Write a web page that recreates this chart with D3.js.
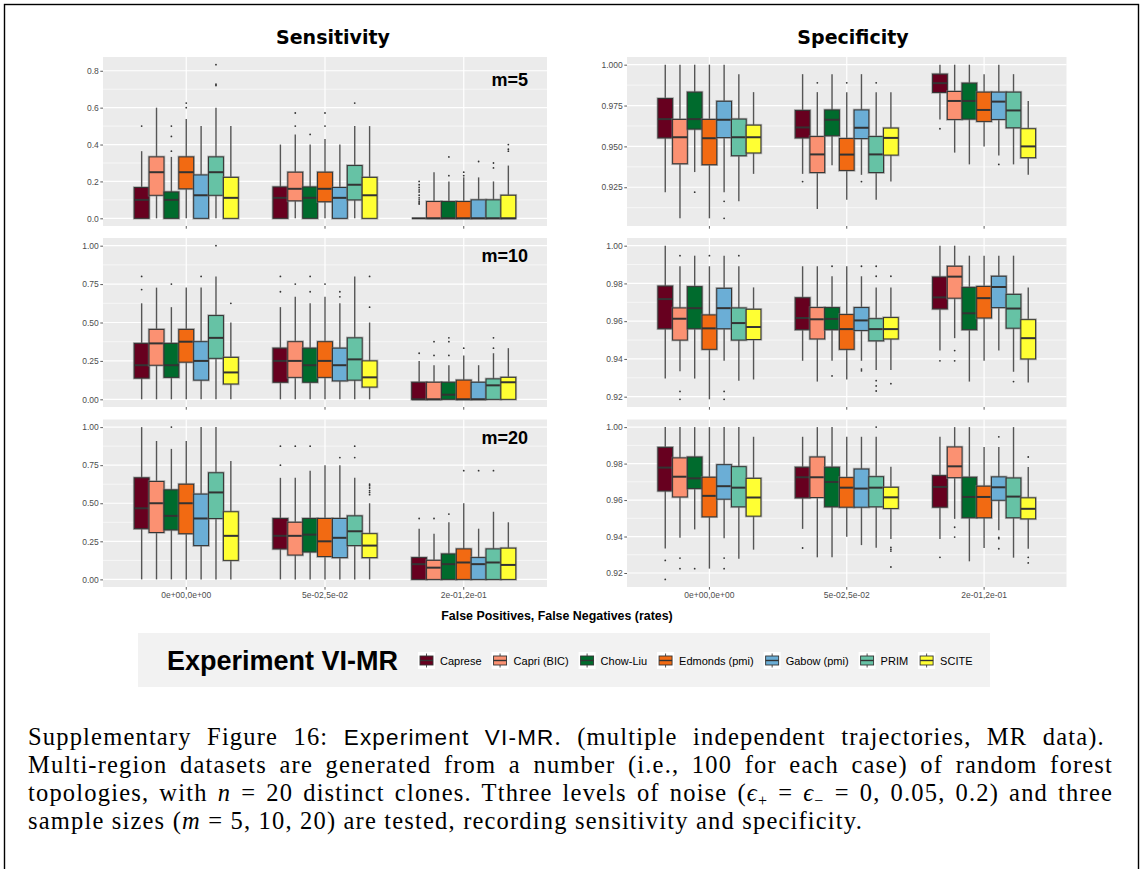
<!DOCTYPE html>
<html>
<head>
<meta charset="utf-8">
<script src="https://cdn.jsdelivr.net/npm/d3@7"></script>
<style>
  body { margin: 0; background: #fff; }
  svg { display: block; }
</style>
</head>
<body>
<svg id="fig" width="1143" height="869"></svg>
<script>
// ---- categories ----
const methods = ["Caprese", "Capri (BIC)", "Chow-Liu", "Edmonds (pmi)", "Gabow (pmi)", "PRIM", "SCITE"];
const methodColors = ["#67001f", "#fb9172", "#006b2d", "#f26a12", "#6baed6", "#66c2a5", "#ffff33"];
const noiseLevels = ["0e+00,0e+00", "5e-02,5e-02", "2e-01,2e-01"];
const sampleSizes = ["m=5", "m=10", "m=20"];

// ---- box statistics: [lower whisker, q1, median, q3, upper whisker, outliers] per noise level, per method ----
const sensM5 = [
  [[0,0,0.1,0.167,0.364,[0.5]], [0,0.125,0.25,0.333,0.6,[]], [0,0,0.1,0.143,0.333,[0.364,0.444,0.5]], [0,0.16,0.25,0.333,0.538,[0.6,0.625]], [0,0,0.125,0.235,0.5,[]], [0,0.125,0.25,0.333,0.6,[0.72,0.727,0.833]], [0,0,0.111,0.222,0.5,[]]],
  [[0,0,0.111,0.17,0.4,[]], [0,0.095,0.16,0.25,0.455,[0.5,0.571]], [0,0,0.111,0.17,0.4,[0.455]], [0,0.09,0.16,0.25,0.43,[0.5,0.571]], [0,0,0.111,0.167,0.4,[]], [0,0.1,0.182,0.286,0.5,[0.625]], [0,0,0.125,0.222,0.5,[]]],
  [[0,0,0,0,0,[0.077,0.083,0.091,0.1,0.111,0.125,0.143,0.154,0.167,0.182,0.2]], [0,0,0,0.091,0.25,[]], [0,0,0,0.091,0.2,[0.231,0.333]], [0,0,0,0.091,0.222,[0.231,0.25]], [0,0,0,0.1,0.222,[0.308]], [0,0,0,0.1,0.2,[0.273,0.3]], [0,0,0,0.125,0.286,[0.364,0.375,0.4]]]
];
const sensM10 = [
  [[0,0.138,0.222,0.364,0.625,[0.714,0.8]], [0,0.222,0.364,0.455,0.727,[]], [0,0.143,0.222,0.364,0.6,[0.75]], [0,0.242,0.375,0.455,0.727,[]], [0,0.125,0.25,0.375,0.727,[0.8]], [0,0.267,0.4,0.545,0.8,[1.0]], [0,0.1,0.175,0.273,0.5,[0.625]]],
  [[0,0.111,0.25,0.333,0.6,[0.7,0.8]], [0,0.143,0.25,0.375,0.667,[0.75]], [0,0.111,0.222,0.333,0.625,[0.7,0.8]], [0,0.143,0.25,0.375,0.667,[0.75]], [0,0.12,0.222,0.333,0.625,[0.667,0.7]], [0,0.125,0.26,0.4,0.8,[]], [0,0.08,0.143,0.25,0.5,[0.6,0.8]]],
  [[0,0,0,0.111,0.25,[0.3]], [0,0,0,0.111,0.222,[0.286,0.375]], [0,0,0.03,0.111,0.222,[0.286,0.375,0.4]], [0,0,0,0.125,0.286,[0.333]], [0,0,0,0.111,0.222,[]], [0,0,0.091,0.133,0.3,[0.333,0.4]], [0,0,0.111,0.143,0.333,[]]]
];
const sensM20 = [
  [[0,0.333,0.467,0.667,1.0,[]], [0,0.308,0.5,0.643,0.909,[]], [0,0.325,0.417,0.588,0.857,[1.0]], [0,0.3,0.5,0.625,0.909,[]], [0,0.222,0.4,0.56,1.0,[]], [0,0.4,0.571,0.7,1.0,[]], [0,0.125,0.286,0.444,0.778,[]]],
  [[0,0.2,0.286,0.4,0.667,[0.75,0.875]], [0,0.16,0.286,0.375,0.667,[0.875]], [0,0.18,0.294,0.4,0.714,[0.875]], [0,0.15,0.25,0.4,0.75,[]], [0,0.143,0.273,0.4,0.75,[0.8]], [0,0.222,0.316,0.417,0.667,[0.8,0.875]], [0,0.143,0.222,0.3,0.5,[0.556,0.571,0.583,0.6,0.615,0.625]]],
  [[0,0,0.1,0.143,0.333,[0.4]], [0,0,0.077,0.125,0.3,[0.4]], [0,0,0.1,0.167,0.375,[0.429]], [0,0,0.111,0.2,0.5,[0.714]], [0,0,0.1,0.143,0.333,[0.714]], [0,0,0.111,0.2,0.444,[0.714]], [0,0,0.095,0.205,0.375,[]]]
];
const specM5 = [
  [[0.922,0.9552,0.9667,0.9793,1.0,[]], [0.906,0.9394,0.9556,0.9665,1.0,[]], [0.9343,0.9606,0.9667,0.9832,1.0,[0.922]], [0.906,0.9388,0.955,0.9665,1.0,[]], [0.922,0.9554,0.9663,0.9776,1.0,[0.9164,0.906]], [0.9164,0.9443,0.9556,0.9667,0.9942,[]], [0.9332,0.946,0.9556,0.963,0.9832,[]]],
  [[0.9332,0.9552,0.9616,0.972,0.9942,[0.9285]], [0.9117,0.934,0.9451,0.956,0.9832,[0.9889]], [0.9384,0.9565,0.9663,0.9723,0.9942,[]], [0.9174,0.9353,0.945,0.9548,0.9832,[0.9889]], [0.9326,0.9548,0.9614,0.9723,0.9942,[0.9285]], [0.9174,0.934,0.9451,0.956,0.9832,[0.9889]], [0.9285,0.9447,0.9552,0.9612,0.9832,[]]],
  [[0.9665,0.983,0.9887,0.9942,1.0,[0.9608]], [0.9462,0.9665,0.9778,0.9836,1.0,[]], [0.939,0.9667,0.9778,0.9887,1.0,[]], [0.95,0.9653,0.9723,0.9832,0.9942,[]], [0.9445,0.9665,0.9774,0.9832,1.0,[0.939]], [0.939,0.9614,0.972,0.9832,0.9942,[]], [0.9326,0.9431,0.95,0.9608,0.9778,[]]]
];
const specM10 = [
  [[0.9296,0.956,0.9717,0.9786,1.0,[]], [0.9335,0.95,0.9613,0.967,0.9891,[0.9947,0.9228,0.9186]], [0.9296,0.956,0.9669,0.9783,0.9947,[]], [0.9186,0.9451,0.9562,0.9633,0.9891,[0.9947]], [0.939,0.956,0.9669,0.9774,0.9947,[0.9228,0.9186]], [0.9285,0.95,0.959,0.967,0.9891,[0.9947]], [0.9291,0.9503,0.9569,0.9663,0.9779,[]]],
  [[0.939,0.9555,0.9617,0.9724,0.9891,[]], [0.928,0.9506,0.961,0.9672,0.9891,[]], [0.939,0.9555,0.9612,0.9672,0.9838,[0.9891,0.931]], [0.9291,0.9451,0.9558,0.9635,0.9891,[]], [0.939,0.9551,0.9604,0.9672,0.9838,[0.9891,0.9346,0.9337]], [0.9341,0.9496,0.9558,0.9613,0.9779,[0.9891,0.9838,0.9285,0.9257,0.923]], [0.9341,0.9506,0.9558,0.9619,0.9779,[0.9838,0.9269]]],
  [[0.9444,0.9665,0.9726,0.9834,1.0,[0.939]], [0.951,0.9722,0.9836,0.9891,1.0,[0.9444,0.939]], [0.928,0.9555,0.9642,0.9779,0.9947,[]], [0.939,0.9617,0.9722,0.9784,0.9947,[]], [0.9444,0.9672,0.9781,0.9838,0.9947,[]], [0.9332,0.9563,0.9667,0.9742,0.9947,[0.928]], [0.9275,0.94,0.951,0.9608,0.9779,[]]]
];
const specM20 = [
  [[0.9335,0.965,0.9778,0.9889,1.0,[0.9269,0.9165]], [0.9393,0.9617,0.9728,0.9831,1.0,[0.9282,0.9224]], [0.9439,0.9663,0.9719,0.9836,1.0,[0.9224]], [0.9224,0.9508,0.9623,0.9725,1.0,[]], [0.939,0.9605,0.9676,0.9794,1.0,[0.9282,0.9224]], [0.9278,0.9563,0.9668,0.9783,1.0,[]], [0.9328,0.9512,0.9614,0.9719,0.9947,[]]],
  [[0.9442,0.9612,0.9725,0.978,0.9947,[0.9337]], [0.9286,0.9614,0.9725,0.9836,1.0,[]], [0.9286,0.9563,0.9699,0.978,1.0,[]], [0.9399,0.9561,0.9668,0.9723,0.9947,[]], [0.9353,0.9561,0.9663,0.977,0.9947,[]], [0.9338,0.9563,0.9668,0.9728,0.9947,[1.0]], [0.9386,0.9554,0.9615,0.967,0.9783,[0.934,0.933,0.932,0.9233]]],
  [[0.9386,0.9561,0.9672,0.9734,0.9947,[0.9286]], [0.9497,0.9723,0.9785,0.9891,1.0,[0.9451,0.9397]], [0.9264,0.9503,0.9617,0.9725,1.0,[]], [0.9337,0.9503,0.9617,0.9676,0.9891,[]], [0.9435,0.9599,0.967,0.9727,0.9891,[0.9947,0.9395,0.9388,0.9333]], [0.9284,0.9503,0.9619,0.9721,1.0,[]], [0.9333,0.9497,0.9552,0.9612,0.9781,[0.9836,0.9286,0.9255]]]
];

// ---- tick values and labels ----
const sensTicksM5 = [0, 0.2, 0.4, 0.6, 0.8];
const sensLabelsM5 = ["0.0", "0.2", "0.4", "0.6", "0.8"];
const sensTicks = [0, 0.25, 0.5, 0.75, 1];
const sensLabels = ["0.00", "0.25", "0.50", "0.75", "1.00"];
const specTicksM5 = [0.925, 0.95, 0.975, 1];
const specLabelsM5 = ["0.925", "0.950", "0.975", "1.000"];
const specTicks = [0.92, 0.94, 0.96, 0.98, 1];
const specLabels = ["0.92", "0.94", "0.96", "0.98", "1.00"];

// ---- layout ----
const svg = d3.select("#fig");
const sans = "'Liberation Sans', Arial, Helvetica, sans-serif";
const serif = "'Liberation Serif', 'Times New Roman', serif";

const cols = [{ x0: 103, x1: 547 }, { x0: 627, x1: 1066.5 }];
const rows = [{ y0: 57, y1: 226 }, { y0: 238, y1: 407 }, { y0: 419.5, y1: 587 }];
const tagLevels = [0.75, 0.935, 0.935];

const panels = [
  { col: 0, row: 0, data: sensM5, ticks: sensTicksM5, labels: sensLabelsM5, tag: sampleSizes[0] },
  { col: 0, row: 1, data: sensM10, ticks: sensTicks, labels: sensLabels, tag: sampleSizes[1] },
  { col: 0, row: 2, data: sensM20, ticks: sensTicks, labels: sensLabels, tag: sampleSizes[2] },
  { col: 1, row: 0, data: specM5, ticks: specTicksM5, labels: specLabelsM5 },
  { col: 1, row: 1, data: specM10, ticks: specTicks, labels: specLabels },
  { col: 1, row: 2, data: specM20, ticks: specTicks, labels: specLabels }
];

// page frame
svg.append("rect").attr("x", 4.5).attr("y", 4.5).attr("width", 1134).attr("height", 900)
  .attr("fill", "none").attr("stroke", "#000").attr("stroke-width", 1.4);

// column titles
[["Sensitivity", 333], ["Specificity", 853]].forEach(([t, cx]) => {
  svg.append("text").attr("x", cx).attr("y", 44).attr("text-anchor", "middle")
    .attr("font-family", "'DejaVu Sans', sans-serif").attr("font-weight", "bold")
    .attr("font-size", 19).attr("fill", "#000").text(t);
});

function drawPanel(p) {
  const { x0, x1 } = cols[p.col];
  const { y0, y1 } = rows[p.row];
  const g = svg.append("g");

  const x = d3.scaleBand().domain(noiseLevels).range([x0, x1]).paddingInner(0.25).paddingOuter(0.225);
  const xm = d3.scaleBand().domain(methods).range([0, x.bandwidth()]);
  const allVals = p.data.flat().flatMap(b => [b[0], b[4], ...b[5]]);
  const [mn, mx] = d3.extent(allVals);
  const pad = (mx - mn) * 0.05;
  const y = d3.scaleLinear().domain([mn - pad, mx + pad]).range([y1, y0]);

  g.append("rect").attr("x", x0).attr("y", y0).attr("width", x1 - x0).attr("height", y1 - y0).attr("fill", "#ebebeb");

  // minor grid
  const step = p.ticks[1] - p.ticks[0];
  const minor = [];
  for (let v = p.ticks[0] - step / 2; v <= p.ticks[p.ticks.length - 1] + step / 2 + 1e-9; v += step) {
    if (v >= y.domain()[0] && v <= y.domain()[1]) minor.push(v);
  }
  g.selectAll(".minor").data(minor).join("line")
    .attr("x1", x0).attr("x2", x1).attr("y1", d => y(d)).attr("y2", d => y(d))
    .attr("stroke", "#fff").attr("stroke-width", 0.6);
  // major grid
  g.selectAll(".major").data(p.ticks).join("line")
    .attr("x1", x0).attr("x2", x1).attr("y1", d => y(d)).attr("y2", d => y(d))
    .attr("stroke", "#fff").attr("stroke-width", 1.2);
  g.selectAll(".vgrid").data(noiseLevels).join("line")
    .attr("x1", d => x(d) + x.bandwidth() / 2).attr("x2", d => x(d) + x.bandwidth() / 2)
    .attr("y1", y0).attr("y2", y1).attr("stroke", "#fff").attr("stroke-width", 1.2);

  // axes
  const yAxis = d3.axisLeft(y).tickValues(p.ticks).tickSize(2.7).tickPadding(1.5)
    .tickFormat((d, i) => p.labels[i]);
  const ya = g.append("g").attr("transform", `translate(${x0},0)`).call(yAxis);
  ya.select(".domain").remove();
  ya.selectAll("line").attr("stroke", "#333").attr("stroke-width", 0.8);
  ya.selectAll("text").attr("font-family", sans).attr("font-size", 8.5).attr("fill", "#4d4d4d");

  const xAxis = d3.axisBottom(x).tickSize(2.7).tickPadding(2)
    .tickFormat(d => p.row === 2 ? d : "");
  const xa = g.append("g").attr("transform", `translate(0,${y1})`).call(xAxis);
  xa.select(".domain").remove();
  xa.selectAll("line").attr("stroke", "#333").attr("stroke-width", 0.8);
  xa.selectAll("text").attr("font-family", sans).attr("font-size", 8.5).attr("fill", "#4d4d4d");

  // boxes
  const boxes = [];
  p.data.forEach((grp, gi) => grp.forEach((b, mi) => boxes.push({ noise: noiseLevels[gi], mi, b })));
  const bg = g.selectAll(".box").data(boxes).join("g");
  const bx = d => x(d.noise) + xm(methods[d.mi]);
  const cx = d => bx(d) + xm.bandwidth() / 2;

  bg.append("line").attr("x1", cx).attr("x2", cx)
    .attr("y1", d => y(d.b[4])).attr("y2", d => y(d.b[3]))
    .attr("stroke", "#555").attr("stroke-width", 1.4);
  bg.append("line").attr("x1", cx).attr("x2", cx)
    .attr("y1", d => y(d.b[1])).attr("y2", d => y(d.b[0]))
    .attr("stroke", "#555").attr("stroke-width", 1.4);
  bg.append("rect").attr("x", bx).attr("width", xm.bandwidth())
    .attr("y", d => y(d.b[3])).attr("height", d => y(d.b[1]) - y(d.b[3]))
    .attr("fill", "none").attr("stroke", "#777").attr("stroke-opacity", 0.55).attr("stroke-width", 2.6);
  bg.append("rect").attr("x", bx).attr("width", xm.bandwidth())
    .attr("y", d => y(d.b[3])).attr("height", d => y(d.b[1]) - y(d.b[3]))
    .attr("fill", d => methodColors[d.mi]).attr("stroke", "#333").attr("stroke-width", 1);
  bg.append("line").attr("x1", bx).attr("x2", d => bx(d) + xm.bandwidth())
    .attr("y1", d => y(d.b[2])).attr("y2", d => y(d.b[2]))
    .attr("stroke", "#333").attr("stroke-width", 2);
  bg.selectAll("circle").data(d => d.b[5].map(v => ({ v, d }))).join("circle")
    .attr("cx", o => cx(o.d)).attr("cy", o => y(o.v)).attr("r", 0.9).attr("fill", "#333");

  if (p.tag) {
    g.append("text").attr("x", 528).attr("y", y(tagLevels[p.row]) + 6.5).attr("text-anchor", "end")
      .attr("font-family", sans).attr("font-weight", "bold").attr("font-size", 18).attr("fill", "#000")
      .text(p.tag);
  }
}
panels.forEach(drawPanel);

// shared x axis title
svg.append("text").attr("x", 557).attr("y", 620).attr("text-anchor", "middle")
  .attr("font-family", sans).attr("font-weight", "bold").attr("font-size", 12.4).attr("fill", "#000")
  .text("False Positives, False Negatives (rates)");

// legend
const leg = svg.append("g");
leg.append("rect").attr("x", 138).attr("y", 633).attr("width", 852).attr("height", 54).attr("fill", "#f2f2f2");
leg.append("text").attr("x", 167).attr("y", 669.5).attr("font-family", sans).attr("font-weight", "bold")
  .attr("font-size", 27).attr("fill", "#000").text("Experiment VI-MR");
let kx = 418;
const ky = 652, ks = 17;
methods.forEach((m, i) => {
  const k = leg.append("g").attr("transform", `translate(${kx},${ky})`);
  k.append("rect").attr("width", ks).attr("height", ks).attr("fill", "#fff");
  k.append("line").attr("x1", ks / 2).attr("x2", ks / 2).attr("y1", 1.5).attr("y2", ks - 1.5)
    .attr("stroke", "#555").attr("stroke-width", 1);
  k.append("rect").attr("x", 2).attr("y", 4).attr("width", ks - 4).attr("height", ks - 8)
    .attr("fill", methodColors[i]).attr("stroke", "#333").attr("stroke-width", 0.9);
  k.append("line").attr("x1", 2).attr("x2", ks - 2).attr("y1", ks / 2).attr("y2", ks / 2)
    .attr("stroke", "#333").attr("stroke-width", 1.4);
  const t = leg.append("text").attr("x", kx + ks + 5).attr("y", ky + 12.5).attr("font-family", sans)
    .attr("font-size", 11).attr("fill", "#000").text(m);
  kx += ks + 5 + t.node().getComputedTextLength() + 10;
});

// caption: lines are justified; glyph tracking is taken from the last (ragged) line
const capX = 28, capFull = 1113 - 28, capSize = 24.5;
const capBase = [745, 773, 801, 829];
function capLine(i, parts) {
  const t = svg.append("text").attr("x", capX).attr("y", capBase[i])
    .attr("font-family", serif).attr("font-size", capSize).attr("fill", "#000");
  parts.forEach(pt => {
    const s = t.append("tspan").text(pt.t);
    if (pt.sans) s.attr("font-family", sans).attr("font-size", capSize - 2);
    if (pt.it) s.attr("font-style", "italic");
    if (pt.sub) s.attr("font-size", 16).attr("dy", 5);
    if (pt.up) s.attr("dy", -5);
  });
  return t;
}
const capLines = [
  capLine(0, [
    { t: "Supplementary Figure 16:  " }, { t: "Experiment VI-MR", sans: true },
    { t: ". (multiple independent trajectories, MR data)." }
  ]),
  capLine(1, [{ t: "Multi-region datasets are generated from a number (i.e., 100 for each case) of random forest" }]),
  capLine(2, [
    { t: "topologies, with " }, { t: "n", it: true }, { t: " = 20 distinct clones. Tthree levels of noise (" },
    { t: "ϵ", it: true }, { t: "+", sub: true }, { t: " = ", up: true }, { t: "ϵ", it: true }, { t: "−", sub: true },
    { t: " = 0, 0.05, 0.2) and three", up: true }
  ]),
  capLine(3, [
    { t: "sample sizes (" }, { t: "m", it: true }, { t: " = 5, 10, 20) are tested, recording sensitivity and specificity." }
  ])
];
const last = capLines[3];
const tracking = Math.max(0, (863 - 28 - last.node().getComputedTextLength()) / last.text().length);
capLines.forEach(t => t.attr("letter-spacing", tracking));
capLines.forEach((t, i) => {
  const target = i < 3 ? capFull : 863 - 28;
  const natural = t.node().getComputedTextLength();
  const spaces = (t.text().match(/ /g) || []).length;
  if (i < 3 || natural < target) t.attr("word-spacing", (target - natural) / spaces);
});
</script>
</body>
</html>
